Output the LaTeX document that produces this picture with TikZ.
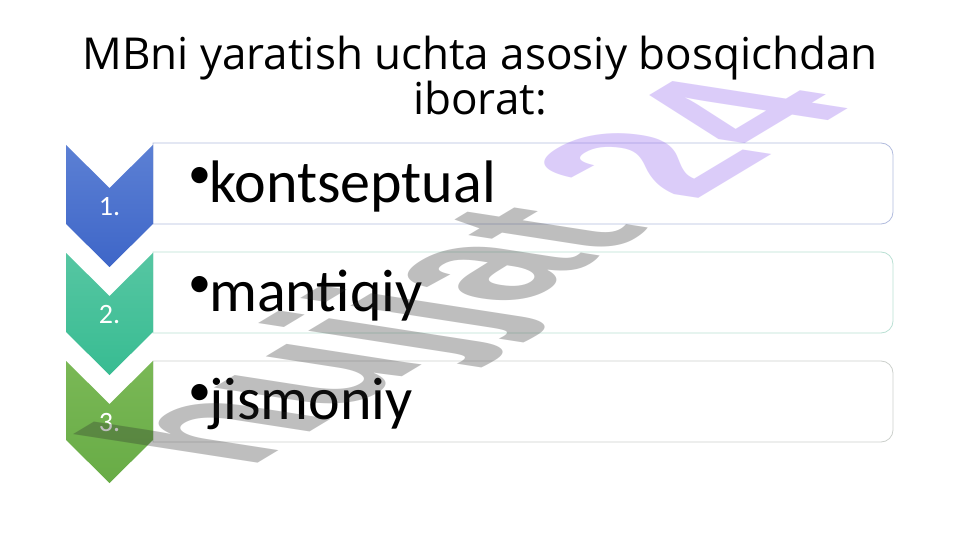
\documentclass[tikz,border=0pt]{standalone}
\usepackage{fontspec}
\setmainfont{Carlito}
\newfontfamily\titlefont{Open Sans}
\newfontfamily\markfont{Liberation Sans}
\definecolor{chevAtop}{RGB}{92,128,212}
\definecolor{chevAbot}{RGB}{62,102,200}
\definecolor{chevBtop}{RGB}{86,198,162}
\definecolor{chevBbot}{RGB}{56,188,146}
\definecolor{chevCtop}{RGB}{122,184,86}
\definecolor{chevCbot}{RGB}{104,172,70}
\definecolor{edgeA}{RGB}{178,188,222}
\definecolor{edgeB}{RGB}{186,224,212}
\definecolor{edgeC}{RGB}{204,208,204}
\definecolor{markgray}{RGB}{42,42,42}
\definecolor{markviolet}{RGB}{138,88,238}
\newcommand\bulletup{\makebox[21pt][l]{\raisebox{14pt}{\fontsize{46}{46}\selectfont•}}}
\tikzset{
  itembox/.style={fill=white, line width=0.8pt},
  numlabel/.style={text=white, font=\fontsize{28}{28}\selectfont, inner sep=0pt},
  itemtext/.style={anchor=base west, inner sep=0pt, font=\fontsize{60}{60}\selectfont},
}
\begin{document}
\begin{tikzpicture}[x=1pt,y=1pt]
  \useasboundingbox (0,0) rectangle (961,-540);
  \fill[white] (0,0) rectangle (961,-540);
  %% title
  \node[anchor=base, align=center, inner sep=0pt,
        font=\titlefont\fontsize{44}{43}\selectfont] (title) at (480,-115)
        {MBni yaratish uchta asosiy bosqichdan\\iborat:};
  %% step 1
  \draw[itembox, draw=edgeA] (153,-143) -- (881,-143) arc[start angle=90, end angle=0, radius=12]
      -- (893,-212) arc[start angle=0, end angle=-90, radius=12] -- (153,-224) -- cycle;
  \shade[top color=chevAtop, bottom color=chevAbot]
      (66,-145) -- (109.5,-188) -- (153,-145) -- (153,-224) -- (109.5,-267) -- (66,-224) -- cycle;
  \node[numlabel] (num1) at (109.5,-207) {1.};
  \node[itemtext] (item1) at (188,-203) {\bulletup kontseptual};
  %% step 2
  \draw[itembox, draw=edgeB] (153,-252) -- (881,-252) arc[start angle=90, end angle=0, radius=12]
      -- (893,-321) arc[start angle=0, end angle=-90, radius=12] -- (153,-333) -- cycle;
  \shade[top color=chevBtop, bottom color=chevBbot]
      (66,-253) -- (109.5,-296) -- (153,-253) -- (153,-332) -- (109.5,-375) -- (66,-332) -- cycle;
  \node[numlabel] (num2) at (109.5,-315) {2.};
  \node[itemtext] (item2) at (188,-311) {\bulletup mantiqiy};
  %% step 3
  \draw[itembox, draw=edgeC] (153,-361) -- (881,-361) arc[start angle=90, end angle=0, radius=12]
      -- (893,-430) arc[start angle=0, end angle=-90, radius=12] -- (153,-442) -- cycle;
  \shade[top color=chevCtop, bottom color=chevCbot]
      (66,-361) -- (109.5,-404) -- (153,-361) -- (153,-440) -- (109.5,-483) -- (66,-440) -- cycle;
  \node[numlabel] (num3) at (109.5,-423) {3.};
  \node[itemtext] (item3) at (188,-419) {\bulletup jismoniy};
  %% watermark
  \begin{scope}[shift={(247,-470)}, rotate=31, xslant=-1.2, xscale=1.18, yscale=1.1, transform shape]
    \node[anchor=base west, inner sep=0pt, text opacity=0.3,
          font=\markfont\bfseries\fontsize{150}{150}\selectfont] (mark) at (0,0)
          {\textcolor{markgray}{hujjat} \textcolor{markviolet}{24}};
  \end{scope}
\end{tikzpicture}
\end{document}
